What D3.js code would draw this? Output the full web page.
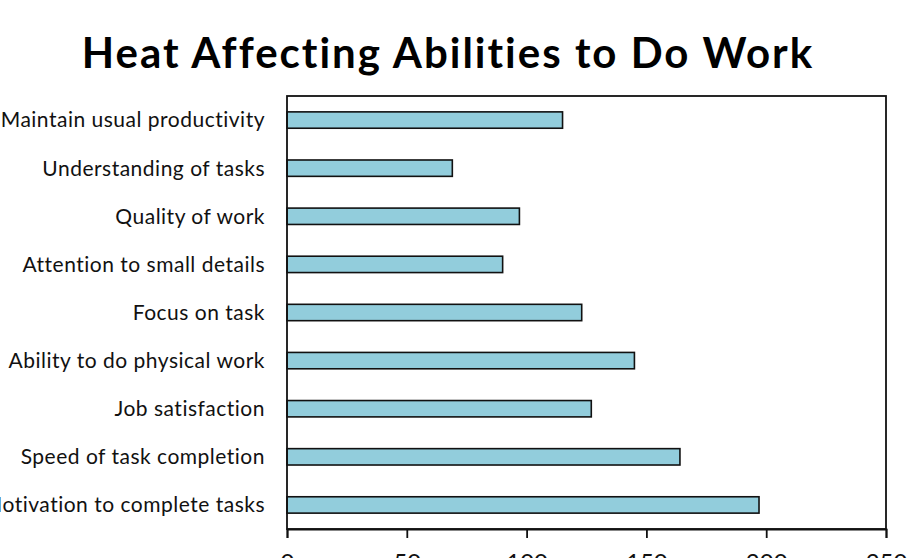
<!DOCTYPE html>
<html>
<head>
<meta charset="utf-8">
<script src="https://cdn.jsdelivr.net/npm/d3@7"></script>
<style>
  body { margin: 0; background: #fff; }
  svg { display: block; }
</style>
</head>
<body>
<svg id="chart" width="919" height="558"></svg>
<script>
const categories = [
  'Maintain usual productivity',
  'Understanding of tasks',
  'Quality of work',
  'Attention to small details',
  'Focus on task',
  'Ability to do physical work',
  'Job satisfaction',
  'Speed of task completion',
  'Motivation to complete tasks'
];
const values = [115, 69, 97, 90, 123, 145, 127, 164, 197];
const xTicks = [0, 50, 100, 150, 200, 250];
const title = 'Heat Affecting Abilities to Do Work';

const svg = d3.select('#chart');
const margin = { top: 96, right: 33, bottom: 29, left: 287 };
const width = +svg.attr('width');
const height = +svg.attr('height');
const font = "Lato, 'Open Sans', sans-serif";

const x = d3.scaleLinear()
  .domain([0, 250])
  .range([margin.left, width - margin.right]);

const y = d3.scaleBand()
  .domain(categories)
  .range([margin.top, height - margin.bottom])
  .paddingInner(0.66)
  .paddingOuter(0.33);

// title
svg.append('text')
  .attr('x', 448)
  .attr('y', 68)
  .attr('text-anchor', 'middle')
  .style('font-family', font)
  .style('font-weight', 'bold')
  .style('font-size', '42px')
  .style('letter-spacing', '2px')
  .text(title);

// bars
svg.selectAll('rect.bar')
  .data(values)
  .enter()
    .append('rect')
    .attr('class', 'bar')
    .attr('x', x(0))
    .attr('y', (d, i) => y(categories[i]))
    .attr('width', (d) => x(d) - x(0))
    .attr('height', y.bandwidth())
    .attr('fill', '#92cddc')
    .attr('stroke', '#111')
    .attr('stroke-width', 1.6);

// category labels
svg.selectAll('text.cat')
  .data(categories)
  .enter()
    .append('text')
    .attr('class', 'cat')
    .attr('x', margin.left - 22)
    .attr('y', (d) => y(d) + y.bandwidth() / 2)
    .attr('dy', '0.35em')
    .attr('text-anchor', 'end')
    .style('font-family', font)
    .style('font-size', '21px')
    .style('letter-spacing', '0.5px')
    .style('fill', '#111')
    .text((d) => d);

// frame
svg.append('rect')
  .attr('x', x(0))
  .attr('y', margin.top)
  .attr('width', x(250) - x(0))
  .attr('height', height - margin.bottom - margin.top)
  .attr('fill', 'none')
  .attr('stroke', '#111')
  .attr('stroke-width', 1.8);

// x axis
const xAxis = svg.append('g')
  .attr('transform', `translate(0,${height - margin.bottom})`)
  .call(d3.axisBottom(x).tickValues(xTicks).tickSize(9).tickPadding(16));

xAxis.select('.domain').attr('stroke', '#111').attr('stroke-width', 1.8);
xAxis.selectAll('.tick line').attr('stroke', '#111').attr('stroke-width', 1.8);
xAxis.selectAll('.tick text')
  .style('font-family', font)
  .style('font-size', '24px')
  .style('fill', '#111');
</script>
</body>
</html>
